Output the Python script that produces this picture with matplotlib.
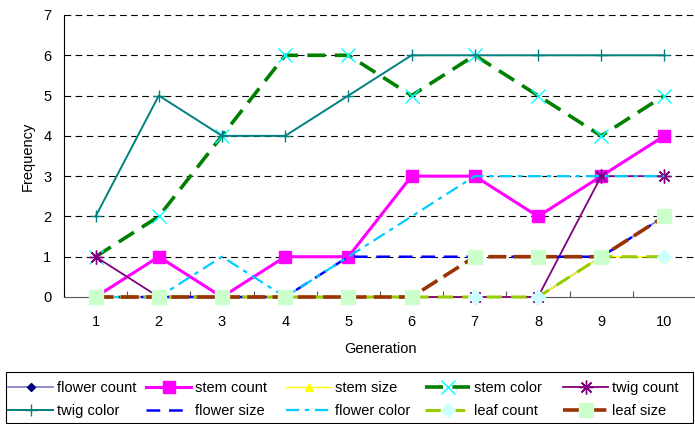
import numpy as np
import matplotlib
matplotlib.use('Agg')
import matplotlib.pyplot as plt
from matplotlib.patches import Rectangle

generations = [1, 2, 3, 4, 5, 6, 7, 8, 9, 10]

flower_count = [0, 0, 0, 0, 0, 0, 0, 0, 1, 2]
stem_count = [0, 1, 0, 1, 1, 3, 3, 2, 3, 4]
stem_size = [0, 0, 0, 0, 0, 0, 0, 0, 1, 1]
stem_color = [1, 2, 4, 6, 6, 5, 6, 5, 4, 5]
twig_count = [1, 0, 0, 0, 0, 0, 0, 0, 3, 3]
twig_color = [2, 5, 4, 4, 5, 6, 6, 6, 6, 6]
flower_size = [0, 0, 0, 0, 1, 1, 1, 1, 1, 2]
flower_color = [0, 0, 1, 0, 1, 2, 3, 3, 3, 3]
leaf_count = [0, 0, 0, 0, 0, 0, 0, 0, 1, 1]
leaf_size = [0, 0, 0, 0, 0, 0, 1, 1, 1, 2]

plt.rcParams['font.family'] = ['Liberation Sans', 'DejaVu Sans']
FS = 10.5

fig = plt.figure(figsize=(6.95, 4.24), dpi=100)
ax = fig.add_axes([64 / 695, 1 - 297 / 424, 632 / 695, 282 / 424])

x = np.array(generations)

# series, drawn in legend order (later ones end up on top)
series = [
    (flower_count, 'flower count', dict(color='#7878C0', lw=1.2, marker='D', ms=4,
                                        mfc='#000080', mec='#000080')),
    (stem_count, 'stem count', dict(color='#FF00FF', lw=2.2, marker='s', ms=9,
                                    mfc='#FF00FF', mec='#FF00FF')),
    (stem_size, 'stem size', dict(color='#FFFF00', lw=1.0, marker='^', ms=6,
                                  mfc='#FFFF00', mec='#FFFF00')),
    (stem_color, 'stem color', dict(color='#008000', lw=2.6, dashes=(5, 2.6), marker='x',
                                    ms=10, mew=1.0, mec='#00FFFF')),
    (twig_count, 'twig count', dict(color='#800080', lw=1.3, marker=(8, 2, 0), ms=10,
                                    mew=1.0, mec='#800080')),
    (twig_color, 'twig color', dict(color='#008080', lw=1.4, marker='+', ms=9, mew=1.0,
                                    mec='#008080')),
    (flower_size, 'flower size', dict(color='#0000FF', lw=1.8, dashes=(5.5, 3.5))),
    (flower_color, 'flower color', dict(color='#00CCFF', lw=1.6, dashes=(6, 2.5, 2, 2.5))),
    (leaf_count, 'leaf count', dict(color='#99CC00', lw=2.2, dashes=(5, 3), marker='D',
                                    ms=7, mfc='#CCFFFF', mec='#CCFFFF')),
    (leaf_size, 'leaf size', dict(color='#993300', lw=2.6, dashes=(5, 2), marker='s',
                                  ms=9.5, mfc='#CCFFCC', mec='#CCFFCC')),
]

handles = []
for vals, name, style in series:
    h, = ax.plot(x, vals, label=name, clip_on=False, zorder=3, **style)
    handles.append(h)

ax.set_xlim(0.5, 10.5)
ax.set_ylim(0, 7)
ax.set_yticks(range(0, 8))
ax.set_xticks(generations)
ax.set_xticks(np.arange(0.5, 10.6, 1), minor=True)
ax.tick_params(axis='x', which='major', length=0, pad=13, labelsize=FS)
ax.tick_params(axis='x', which='minor', direction='in', length=4, width=0.8, color='#555555')
ax.tick_params(axis='y', direction='in', length=0, pad=9, labelsize=FS)

for s in ['top', 'right']:
    ax.spines[s].set_visible(False)
ax.spines['left'].set_linewidth(0.8)
ax.spines['bottom'].set_linewidth(0.8)
ax.spines['bottom'].set_color('#555555')

for yv in range(1, 8):
    ax.axhline(yv, color='black', lw=0.8, dashes=(6, 4), zorder=1, clip_on=False)

ax.set_xlabel('Generation', fontsize=FS, labelpad=9)
ax.set_ylabel('Frequency', fontsize=FS, labelpad=6)

# Excel-style legend: equal width columns, two rows, one frame round all
W, H = 695, 424
fig.patches.append(Rectangle((6 / W, 1 / H), 687 / W, 51 / H, transform=fig.transFigure,
                             fill=False, edgecolor='black', lw=0.8))
col_x = [8, 146, 286, 425, 563]
for c in range(5):
    leg = fig.legend(handles=[handles[c], handles[c + 5]], loc='upper left',
                     bbox_to_anchor=(col_x[c] / W, 1 - 381 / H), frameon=False,
                     fontsize=FS, handlelength=3.1, handletextpad=0.25,
                     borderaxespad=0, borderpad=0, labelspacing=0.6)

fig.savefig('out.png', dpi=100, facecolor='white')
